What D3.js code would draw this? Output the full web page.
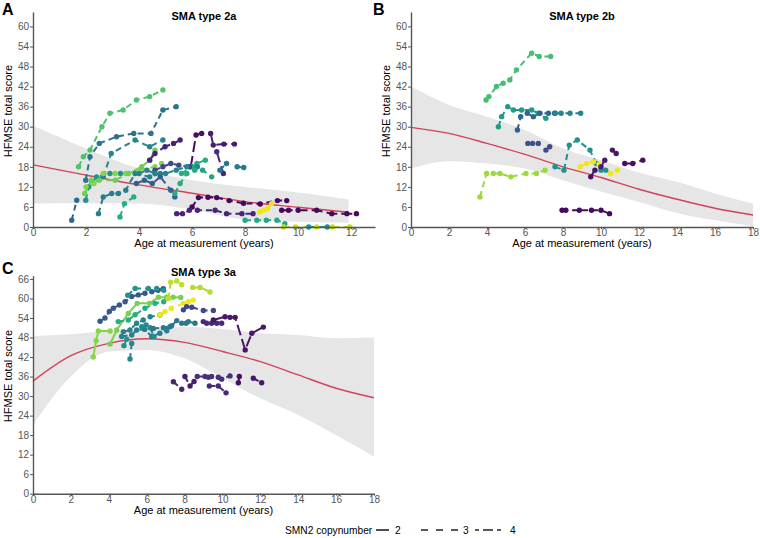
<!DOCTYPE html>
<html>
<head>
<meta charset="utf-8">
<script src="https://cdn.jsdelivr.net/npm/d3@7"></script>
<style>
  body { margin: 0; background: #fff; }
  svg text { font-family: "Liberation Sans", Arial, Helvetica, sans-serif; }
</style>
</head>
<body>
<svg id="chart" width="760" height="538"></svg>
<script>
// Model fit (red line) and 95% band, per panel
const fitAgeA = [0, 2, 4, 6, 8, 10, 11.9];
const fitA = [18.6, 15.5, 12.6, 10.1, 7.6, 5.9, 4.4];
const lowA = [7, 7.1, 7, 5.2, 2.2, 1.6, 1.3];
const highA = [30.3, 23.5, 17.5, 14, 12, 10.3, 8.2];

const fitAgeB = [0, 2, 4, 6, 8, 10, 12, 14, 16, 18];
const fitB = [29.8, 28, 25, 21.7, 18, 14.8, 11.3, 8.3, 5.6, 3.6];
const lowB = [17.5, 19.7, 19, 17.5, 14, 10.6, 7.5, 4.2, 2, 0.3];
const highB = [42, 36.5, 33, 29, 23.5, 20, 16.3, 13.5, 10, 7];

const fitAgeC = [0, 2, 4, 6, 8, 10, 12, 14, 16, 18];
const fitC = [34.6, 42.4, 46.2, 47.6, 46.5, 43.7, 40.6, 36.5, 32.4, 29.5];
const lowC = [21.1, 36, 43.7, 44.2, 41.6, 35.5, 29.3, 24.2, 18, 11.4];
const highC = [48.5, 49, 50, 50.3, 51.3, 50.6, 49.3, 48.8, 47.8, 48];

// Patient trajectories: v = patient colour value (viridis), n = SMN2 copies, p = [age, score]
const patientsA = [
  { v: 0.72, n: 3, p: [[1.72, 18], [1.9, 21], [2.15, 23], [2.6, 30], [2.9, 34], [3.4, 35], [3.9, 38], [4.4, 39], [4.9, 41]] },
  { v: 0.38, n: 3, p: [[1.99, 14], [2.15, 21], [2.5, 25], [3.15, 27], [3.8, 28], [4.45, 28], [4.9, 35], [5.4, 36]] },
  { v: 0.45, n: 3, p: [[2.65, 15], [2.95, 22], [3.85, 26], [4.4, 24], [4.9, 26]] },
  { v: 0.33, n: 3, p: [[1.46, 2], [1.65, 8]] },
  { v: 0.52, n: 3, p: [[1.99, 8], [2.1, 12], [2.4, 15], [2.9, 16], [3.3, 16]] },
  { v: 0.62, n: 3, p: [[3.28, 3], [3.45, 7], [3.8, 9]] },
  { v: 0.42, n: 3, p: [[2.47, 4], [2.65, 9], [2.97, 10], [3.22, 10], [3.5, 11], [3.85, 16], [4.4, 15], [4.8, 16]] },
  { v: 0.82, n: 3, p: [[2.0, 12], [2.3, 13], [2.65, 16], [3.1, 16], [3.5, 16], [4.0, 17], [4.6, 18], [4.85, 19]] },
  { v: 0.78, n: 3, p: [[1.95, 10], [2.2, 14], [2.5, 14], [3.1, 14], [3.6, 16], [4.1, 18], [4.4, 20], [4.6, 23]] },
  { v: 0.10, n: 4, p: [[4.4, 20], [4.6, 22], [4.98, 24], [5.3, 25], [5.55, 26]] },
  { v: 0.04, n: 4, p: [[5.95, 18], [6.15, 27.5], [6.36, 28]] },
  { v: 0.08, n: 4, p: [[6.7, 28], [6.8, 24.5], [7.2, 24.8], [7.6, 24.8]] },
  { v: 0.12, n: 4, p: [[6.93, 22.5], [7.18, 16]] },
  { v: 0.38, n: 3, p: [[7.05, 17], [7.3, 19]] },
  { v: 0.40, n: 3, p: [[7.7, 18], [7.95, 17.8]] },
  { v: 0.62, n: 3, p: [[5.6, 16], [6.18, 19], [6.5, 20]] },
  { v: 0.58, n: 3, p: [[6.0, 18], [6.4, 17], [6.74, 15]] },
  { v: 0.02, n: 3, p: [[6.0, 6], [6.24, 8.8], [6.6, 8.9], [6.93, 8.8], [7.4, 7.9], [7.94, 7.1], [8.57, 6.9], [9.22, 7.9], [9.57, 7.9]] },
  { v: 0.10, n: 3, p: [[5.42, 4], [5.64, 4], [5.9, 5], [6.2, 5], [6.87, 5], [7.3, 4], [7.88, 4], [8.3, 4]] },
  { v: 0.03, n: 4, p: [[9.38, 5], [9.64, 5], [10, 5], [10.7, 5], [11.27, 4], [11.84, 4], [12.2, 4]] },
  { v: 0.60, n: 3, p: [[8.0, 2], [8.44, 2], [8.8, 2], [9.2, 2], [9.5, 1]] },
  { v: 0.92, n: 3, p: [[9.45, 0], [9.9, 0], [10.7, 0], [11.3, 0], [11.95, 0]] },
  { v: 0.50, n: 3, p: [[10.4, 0], [11.1, 0]] },
  { v: 0.98, n: 3, p: [[8.55, 4.5], [8.7, 5], [8.85, 5.5], [9.0, 7]] },
  { v: 0.22, n: 3, p: [[4.6, 17], [4.9, 18], [5.2, 19], [5.5, 18.5], [5.9, 18]] },
  { v: 0.45, n: 3, p: [[4.0, 16], [4.3, 17], [4.6, 16], [5.0, 16], [5.4, 17], [5.8, 18], [6.2, 18]] },
  { v: 0.30, n: 3, p: [[3.9, 13], [4.2, 14], [4.5, 13], [4.8, 15], [5.2, 11], [5.35, 9]] },
  { v: 0.62, n: 3, p: [[5.35, 10], [5.55, 13], [5.8, 16], [6.1, 17]] }
];

const patientsB = [
  { v: 0.70, n: 3, p: [[3.95, 38], [4.1, 39], [4.5, 42], [4.85, 43], [5.2, 44], [5.55, 47], [6.35, 52], [6.75, 51], [7.35, 51]] },
  { v: 0.55, n: 3, p: [[4.6, 30], [4.77, 33], [5.09, 36], [5.39, 35], [5.82, 35], [6.35, 35], [6.7, 34], [7.1, 32.5]] },
  { v: 0.32, n: 3, p: [[5.6, 29], [5.77, 33], [6.12, 34], [6.44, 33], [6.79, 34], [7.23, 34], [7.55, 34]] },
  { v: 0.45, n: 3, p: [[7.6, 34], [7.9, 34], [8.37, 34], [8.93, 34]] },
  { v: 0.25, n: 3, p: [[6.15, 25], [6.4, 25], [6.7, 25]] },
  { v: 0.22, n: 3, p: [[7.1, 23], [7.3, 24]] },
  { v: 0.50, n: 3, p: [[7.58, 18], [8.05, 17], [8.33, 24.5], [8.75, 26], [9.42, 23], [9.75, 19], [10.0, 17], [10.25, 17]] },
  { v: 0.98, n: 3, p: [[8.9, 18], [9.25, 19], [9.6, 19.5], [9.9, 18.8], [10.5, 16], [10.86, 17]] },
  { v: 0.05, n: 3, p: [[9.46, 15], [9.68, 17]] },
  { v: 0.08, n: 3, p: [[10.0, 18], [10.2, 20]] },
  { v: 0.06, n: 4, p: [[10.6, 23], [10.8, 22]] },
  { v: 0.04, n: 4, p: [[11.25, 19], [11.67, 19], [12.2, 20]] },
  { v: 0.03, n: 3, p: [[7.95, 5], [8.15, 5], [8.86, 5], [9.5, 5], [10, 5], [10.45, 4]] },
  { v: 0.85, n: 3, p: [[3.63, 9], [3.98, 16], [4.33, 16], [4.68, 16], [5.25, 15], [6.05, 16], [6.6, 16], [7.05, 17]] }
];

const patientsC = [
  { v: 0.82, n: 2, p: [[3.18, 42], [3.33, 47], [3.45, 50], [4.07, 50]] },
  { v: 0.80, n: 2, p: [[4.07, 46], [4.42, 50.3], [5.03, 55.4], [5.5, 58.5], [6.14, 58.5], [6.62, 60.4], [7.06, 60.4], [7.4, 60.4], [7.8, 60.3]] },
  { v: 0.28, n: 3, p: [[3.54, 53], [3.8, 54], [4.03, 56], [4.24, 57], [4.56, 58], [4.86, 59], [5.21, 60.6], [5.56, 61.1], [5.91, 61.6], [6.27, 62.1], [6.6, 62.5], [6.88, 63]] },
  { v: 0.52, n: 3, p: [[5.0, 61], [5.39, 63.1], [6.09, 63.1], [6.53, 63.1], [6.9, 62.5]] },
  { v: 0.62, n: 3, p: [[4.5, 52.9], [5.03, 53.4], [5.39, 55], [5.91, 57], [6.44, 58.5], [6.9, 59]] },
  { v: 0.45, n: 3, p: [[4.77, 49.8], [5.12, 50.3], [5.47, 52.4], [5.82, 53.4], [6.18, 54.4], [6.7, 54.9]] },
  { v: 0.42, n: 3, p: [[4.68, 48.3], [5.21, 48.8], [5.47, 50.3], [5.9, 50.5], [6.27, 48.3], [6.7, 49.3], [7.06, 50.1], [7.23, 51.3]] },
  { v: 0.48, n: 3, p: [[5.74, 51.3], [5.97, 51.9], [6.18, 51], [6.39, 48.3]] },
  { v: 0.40, n: 3, p: [[6.35, 50.8], [6.88, 51], [7.32, 51.6], [7.59, 53.2], [7.85, 52.4], [8.08, 52.4], [8.2, 52.9], [8.55, 52.4]] },
  { v: 0.46, n: 3, p: [[5.12, 41.4], [5.21, 46.2]] },
  { v: 0.50, n: 3, p: [[4.8, 45.5], [4.95, 47.5]] },
  { v: 0.98, n: 3, p: [[6.7, 55], [6.97, 56], [7.3, 57], [7.94, 58.5], [8.2, 59], [8.46, 59.5]] },
  { v: 0.90, n: 3, p: [[7.15, 60], [7.27, 65], [7.59, 65.4], [7.85, 64.2]] },
  { v: 0.88, n: 3, p: [[8.43, 63.4], [8.82, 63.4], [9.34, 62]] },
  { v: 0.22, n: 3, p: [[7.94, 56.5], [8.11, 57.5], [8.38, 57.3], [8.99, 56.3], [9.52, 56.3]] },
  { v: 0.12, n: 3, p: [[8.99, 52.9], [9.17, 52.4], [9.43, 52.4], [9.7, 52.4], [9.96, 52.4]] },
  { v: 0.06, n: 4, p: [[9.52, 53.4], [10.14, 54.4], [10.4, 54.2], [10.67, 54.2], [11.2, 44.2], [11.55, 49.3], [12.16, 51.2]] },
  { v: 0.10, n: 3, p: [[7.41, 34.4], [7.85, 32.1]] },
  { v: 0.08, n: 3, p: [[8.02, 36], [8.29, 33.1], [8.5, 34.5]] },
  { v: 0.14, n: 3, p: [[8.67, 36], [9.08, 36], [9.26, 35.8], [9.43, 36], [9.78, 35.8], [9.96, 35.2], [10.4, 36.2]] },
  { v: 0.12, n: 3, p: [[9.31, 33.1], [9.78, 33.1], [10.19, 31]] },
  { v: 0.04, n: 3, p: [[10.89, 36], [10.84, 34.1]] },
  { v: 0.06, n: 3, p: [[11.63, 35.5], [12.07, 34.1]] }
];

const xTicksA = [0, 2, 4, 6, 8, 10, 12];
const xTicksBC = [0, 2, 4, 6, 8, 10, 12, 14, 16, 18];
const yTicksAB = [0, 6, 12, 18, 24, 30, 36, 42, 48, 54, 60];
const yTicksC = [0, 6, 12, 18, 24, 30, 36, 42, 48, 54, 60, 66];

const copyLabels = ["2", "3", "4"];

const svg = d3.select("#chart");
const colour = d3.scaleSequential(d3.interpolateViridis).domain([0, 1]);
const dashFor = { 2: null, 3: "6,4", 4: "11,4" };

function drawPanel(cfg) {
  const x = d3.scaleLinear().domain(cfg.xDomain).range(cfg.xRange);
  const y = d3.scaleLinear().domain(cfg.yDomain).range(cfg.yRange);
  const g = svg.append("g");

  // confidence band
  const band = cfg.fitAge.map((a, i) => ({ a, lo: cfg.low[i], hi: cfg.high[i], f: cfg.fit[i] }));
  g.append("path")
    .datum(band)
    .attr("fill", "#e6e6e6")
    .attr("d", d3.area().curve(d3.curveMonotoneX)
      .x((d) => x(d.a)).y0((d) => y(d.lo)).y1((d) => y(d.hi)));

  // fitted line
  g.append("path")
    .datum(band)
    .attr("fill", "none")
    .attr("stroke", "#d1435b")
    .attr("stroke-width", 1.4)
    .attr("d", d3.line().curve(d3.curveMonotoneX).x((d) => x(d.a)).y((d) => y(d.f)));

  // patient trajectories
  const line = d3.line().x((d) => x(d[0])).y((d) => y(d[1]));
  g.selectAll(".traj")
    .data(cfg.patients)
    .enter()
    .append("path")
    .attr("fill", "none")
    .attr("stroke", (d) => colour(d.v))
    .attr("stroke-width", 2)
    .attr("stroke-dasharray", (d) => dashFor[d.n])
    .attr("d", (d) => line(d.p));

  cfg.patients.forEach((pt) => {
    g.selectAll(null)
      .data(pt.p)
      .enter()
      .append("circle")
      .attr("cx", (d) => x(d[0]))
      .attr("cy", (d) => y(d[1]))
      .attr("r", 2.7)
      .attr("fill", colour(pt.v));
  });

  // axes
  const xAxis = g.append("g")
    .attr("transform", `translate(0,${cfg.yRange[0]})`)
    .call(d3.axisBottom(x).tickValues(cfg.xTicks).tickSize(2).tickPadding(0).tickSizeOuter(0));
  const yAxis = g.append("g")
    .attr("transform", `translate(${cfg.xRange[0]},0)`)
    .call(d3.axisLeft(y).tickValues(cfg.yTicks).tickSize(3).tickPadding(1).tickSizeOuter(0));
  [xAxis, yAxis].forEach((ax) => {
    ax.select(".domain").attr("stroke", "#555").attr("stroke-width", 1.4);
    ax.selectAll(".tick line").attr("stroke", "#555");
    ax.selectAll(".tick text").attr("fill", "#555").style("font-size", "10px");
  });

  // titles
  g.append("text")
    .attr("x", (cfg.xRange[0] + cfg.xRange[1]) / 2)
    .attr("y", cfg.titleY)
    .attr("text-anchor", "middle")
    .style("font-size", "11px")
    .style("font-weight", "bold")
    .text(cfg.title);
  g.append("text")
    .attr("x", cfg.letterX)
    .attr("y", cfg.letterY)
    .style("font-size", "16px")
    .style("font-weight", "bold")
    .text(cfg.letter);
  g.append("text")
    .attr("x", (cfg.xRange[0] + cfg.xRange[1]) / 2)
    .attr("y", cfg.yRange[0] + 20)
    .attr("text-anchor", "middle")
    .style("font-size", "11px")
    .text("Age at measurement (years)");
  g.append("text")
    .attr("transform", `translate(${cfg.xRange[0] - 21},${cfg.yTitleMid}) rotate(-90)`)
    .attr("text-anchor", "middle")
    .style("font-size", "11px")
    .text("HFMSE total score");
}

drawPanel({
  letter: "A", letterX: 2, letterY: 15, title: "SMA type 2a", titleY: 20,
  xDomain: [0, 12.9], xRange: [33, 375], yDomain: [0, 64.3], yRange: [227, 12],
  xTicks: xTicksA, yTicks: yTicksAB, yTitleMid: 111,
  fitAge: fitAgeA, fit: fitA, low: lowA, high: highA, patients: patientsA
});
drawPanel({
  letter: "B", letterX: 373, letterY: 15, title: "SMA type 2b", titleY: 20,
  xDomain: [0, 18], xRange: [411, 753], yDomain: [0, 64.3], yRange: [227, 12],
  xTicks: xTicksBC, yTicks: yTicksAB, yTitleMid: 111,
  fitAge: fitAgeB, fit: fitB, low: lowB, high: highB, patients: patientsB
});
drawPanel({
  letter: "C", letterX: 2, letterY: 274, title: "SMA type 3a", titleY: 276,
  xDomain: [0, 18], xRange: [33, 374], yDomain: [0, 67], yRange: [493.7, 275.7],
  xTicks: xTicksBC, yTicks: yTicksC, yTitleMid: 376,
  fitAge: fitAgeC, fit: fitC, low: lowC, high: highC, patients: patientsC
});

// legend
const legend = svg.append("g").attr("transform", "translate(0,530)");
legend.append("text")
  .attr("x", 285).attr("y", 4)
  .style("font-size", "10.2px")
  .text("SMN2 copynumber");
const keyX = d3.scaleOrdinal().domain(copyLabels).range([376, 421, 475]);
const keyW = { 2: 13, 3: 37, 4: 29 };
const labX = { 2: 395, 3: 463, 4: 510 };
copyLabels.forEach((c) => {
  legend.append("line")
    .attr("x1", keyX(c)).attr("x2", keyX(c) + keyW[c])
    .attr("y1", 0).attr("y2", 0)
    .attr("stroke", "#222")
    .attr("stroke-width", 1.6)
    .attr("stroke-dasharray", c === "2" ? null : c === "3" ? "7,8" : "4,4,10,4");
  legend.append("text")
    .attr("x", labX[c]).attr("y", 4)
    .style("font-size", "10.2px")
    .text(c);
});
</script>
</body>
</html>
